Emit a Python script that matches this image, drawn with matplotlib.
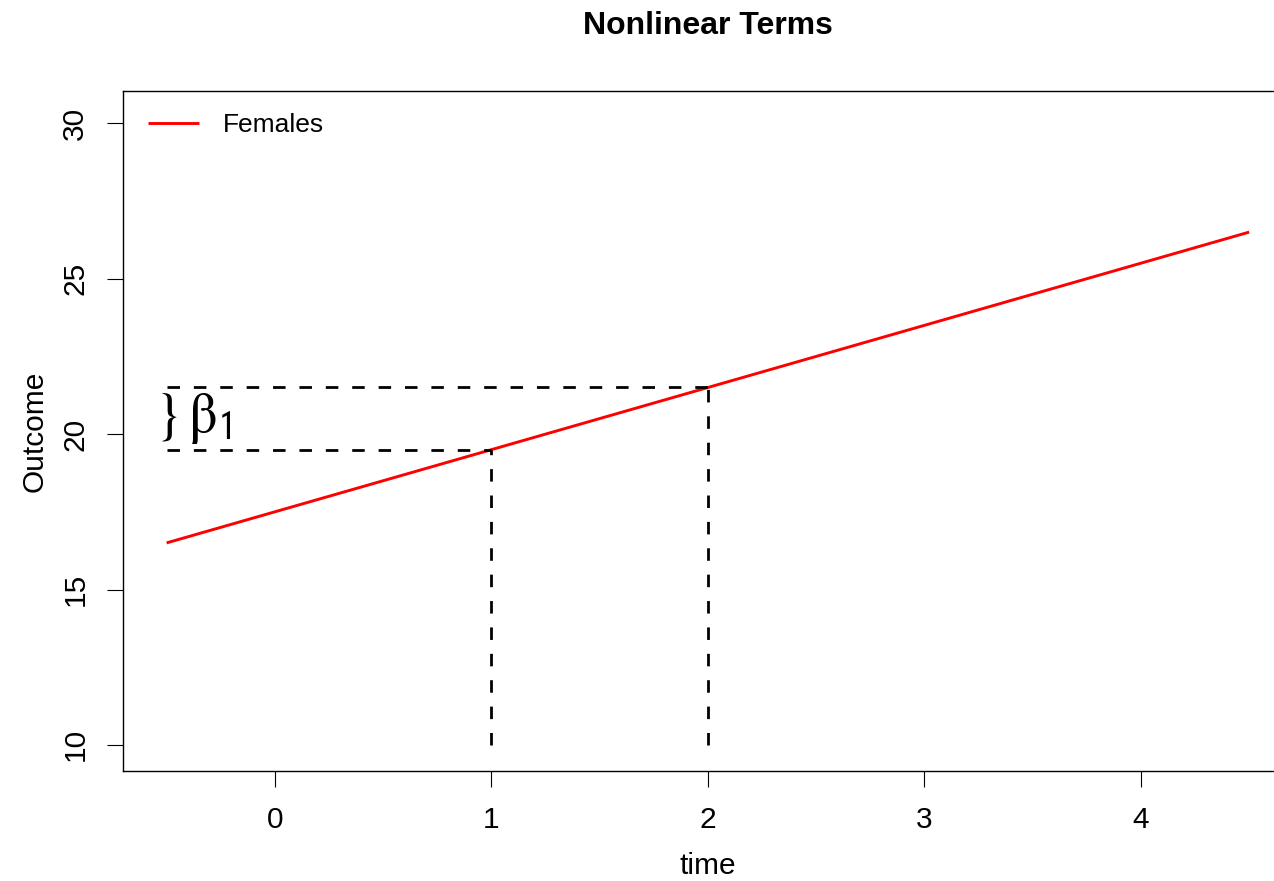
import matplotlib
matplotlib.use("Agg")
import matplotlib.pyplot as plt

# data
time = [-0.5, 4.5]
outcome = [16.5, 26.5]
t_marks = [1, 2]
y_marks = [19.5, 21.5]    # outcome at those times
x_start = -0.5
y_floor = 10
xticks = [0, 1, 2, 3, 4]
yticks = [10, 15, 20, 25, 30]

plt.rcParams['font.family'] = ['Liberation Sans', 'DejaVu Sans']

fig = plt.figure(figsize=(12.74, 8.81), dpi=100)
ax = fig.add_axes([0.0968, 0.1252, 0.9177, 0.7715])

ax.plot(time, outcome, color='red', lw=2.1, label='Females', solid_capstyle='butt')

dash = dict(color='black', lw=2, dashes=(4.5, 5))
for t, y in zip(t_marks, y_marks):
    ax.plot([x_start, t], [y, y], **dash)
    ax.plot([t, t], [y_floor, y], **dash)

ax.text(-0.56, 20.5, r'$\}\,\mathrm{\beta}_{\mathsf{1}}$', fontsize=41, va='center',
        ha='left', math_fontfamily='stix')

ax.set_xlim(-0.7, 4.7)
ax.set_ylim(9.17, 31.04)
ax.set_xticks(xticks)
ax.set_yticks(yticks)
ax.tick_params(length=11.5, width=0.8, labelsize=21.5, direction='out')
ax.tick_params(axis='x', pad=14)
ax.tick_params(axis='y', pad=13, labelrotation=90)
for lab in ax.get_yticklabels():
    lab.set_va('center')
for s in ax.spines.values():
    s.set_linewidth(1.0)

ax.set_xlabel('time', fontsize=21.5)
ax.set_ylabel('Outcome', fontsize=21.5)
ax.xaxis.set_label_coords(0.5, -0.1196)
ax.yaxis.set_label_coords(-0.0636, 0.5)

ax.legend(loc='upper left', bbox_to_anchor=(0.0209, 0.967), borderaxespad=0,
          borderpad=0, frameon=False, fontsize=19, handlelength=1.93,
          handletextpad=0.92)

fig.text(0.5555, 1 - 34 / 881, 'Nonlinear Terms', fontsize=23, fontweight='bold',
         ha='center', va='baseline')

fig.savefig('out.png', dpi=100)
